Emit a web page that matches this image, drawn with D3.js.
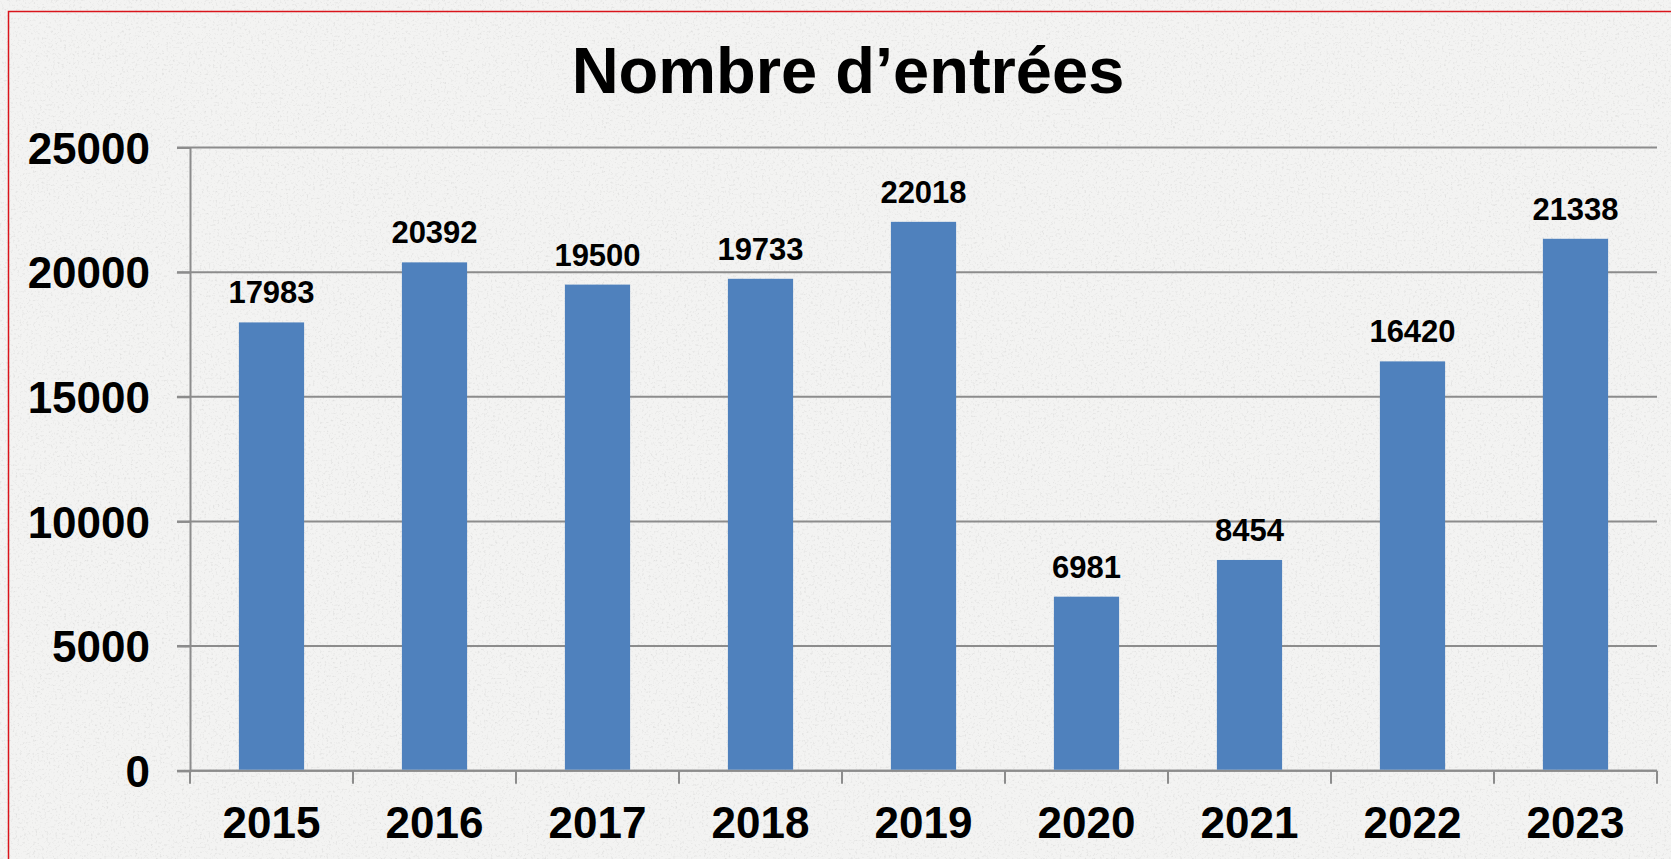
<!DOCTYPE html>
<html>
<head>
<meta charset="utf-8">
<script src="https://cdn.jsdelivr.net/npm/d3@7"></script>
<style>
    html, body { margin: 0; padding: 0; background: #f1f1f0; overflow: hidden; }
    svg { display: block; font-family: "Liberation Sans", Arial, sans-serif; }
</style>
</head>
<body>
<div id="chart"></div>
<script>
// Data
const years = ['2015', '2016', '2017', '2018', '2019', '2020', '2021', '2022', '2023'];
const entrees = [17983, 20392, 19500, 19733, 22018, 6981, 8454, 16420, 21338];
const yTicks = [0, 5000, 10000, 15000, 20000, 25000];
const title = 'Nombre d\u2019entrées';

const width = 1671, height = 859;
const margin = { top: 147.5, right: 14, bottom: 88, left: 190 };

const svg = d3.select('#chart')
    .append('svg')
    .attr('width', width)
    .attr('height', height);

// Paper-like texture background
const defs = svg.append('defs');
const filter = defs.append('filter')
    .attr('id', 'paper')
    .attr('x', 0).attr('y', 0)
    .attr('width', '100%').attr('height', '100%');
filter.append('feTurbulence')
    .attr('type', 'fractalNoise')
    .attr('baseFrequency', 0.45)
    .attr('numOctaves', 3)
    .attr('seed', 7)
    .attr('result', 'noise');
filter.append('feColorMatrix')
    .attr('in', 'noise')
    .attr('type', 'matrix')
    .attr('values', '0 0 0 0 0  0 0 0 0 0  0 0 0 0 0  0 0 0 -0.9 0.42');

svg.append('rect')
    .attr('width', width)
    .attr('height', height)
    .attr('fill', '#f3f3f2');
svg.append('rect')
    .attr('width', width)
    .attr('height', height)
    .attr('fill', '#000')
    .attr('filter', 'url(#paper)')
    .attr('opacity', 0.22);

// Red frame (runs off the right and bottom edges)
svg.append('rect')
    .attr('x', 8.5)
    .attr('y', 11.5)
    .attr('width', width + 20)
    .attr('height', height + 20)
    .attr('fill', 'none')
    .attr('stroke', '#d9141b')
    .attr('stroke-width', 1.5);

const x = d3.scaleBand()
    .domain(years)
    .range([margin.left, width - margin.right])
    .paddingInner(0.6)
    .paddingOuter(0.3);

const y = d3.scaleLinear()
    .domain([0, 25000])
    .range([height - margin.bottom - 0.3, margin.top]);

const gridColor = '#8c8c8c';

// Gridlines
svg.append('g')
    .selectAll('line')
    .data(yTicks)
    .join('line')
    .attr('x1', margin.left - 13)
    .attr('x2', width - margin.right)
    .attr('y1', d => y(d))
    .attr('y2', d => y(d))
    .attr('stroke', gridColor)
    .attr('stroke-width', 2);

// Y axis
const yAxis = svg.append('g')
    .attr('transform', `translate(${margin.left},0)`)
    .call(d3.axisLeft(y).tickValues(yTicks).tickSize(13).tickPadding(27).tickFormat(d3.format('d')));
yAxis.select('.domain').attr('stroke', gridColor).attr('stroke-width', 2);
yAxis.selectAll('.tick line').attr('stroke', gridColor).attr('stroke-width', 2);
yAxis.selectAll('text')
    .style('font-size', '44px')
    .style('font-weight', 'bold')
    .attr('fill', '#000')
    .attr('dy', '0.36em');

// X axis: ticks between categories
const step = x.step();
const boundaries = d3.range(years.length + 1).map(i => margin.left + i * step);
const xg = svg.append('g');
xg.append('line')
    .attr('x1', margin.left)
    .attr('x2', width - margin.right)
    .attr('y1', y(0))
    .attr('y2', y(0))
    .attr('stroke', gridColor)
    .attr('stroke-width', 2);
xg.selectAll('.xtick')
    .data(boundaries)
    .join('line')
    .attr('class', 'xtick')
    .attr('x1', d => d)
    .attr('x2', d => d)
    .attr('y1', y(0))
    .attr('y2', y(0) + 13)
    .attr('stroke', gridColor)
    .attr('stroke-width', 2);
xg.selectAll('.xlabel')
    .data(years)
    .join('text')
    .attr('class', 'xlabel')
    .attr('x', d => x(d) + x.bandwidth() / 2)
    .attr('y', 838)
    .attr('text-anchor', 'middle')
    .style('font-size', '44px')
    .style('font-weight', 'bold')
    .text(d => d);

// Bars
const data = years.map((yr, i) => ({ year: yr, value: entrees[i] }));
svg.append('g')
    .selectAll('rect')
    .data(data)
    .join('rect')
    .attr('x', d => x(d.year))
    .attr('y', d => y(d.value))
    .attr('width', x.bandwidth())
    .attr('height', d => y(0) - y(d.value) - 1)
    .attr('fill', '#4f81bd');

// Value labels
svg.append('g')
    .selectAll('text')
    .data(data)
    .join('text')
    .attr('x', d => x(d.year) + x.bandwidth() / 2)
    .attr('y', d => y(d.value) - 19)
    .attr('text-anchor', 'middle')
    .style('font-size', '31px')
    .style('font-weight', 'bold')
    .text(d => d.value);

// Title
svg.append('text')
    .attr('x', 848)
    .attr('y', 92.5)
    .attr('text-anchor', 'middle')
    .style('font-size', '65px')
    .style('font-weight', 'bold')
    .text(title);
</script>
</body>
</html>
